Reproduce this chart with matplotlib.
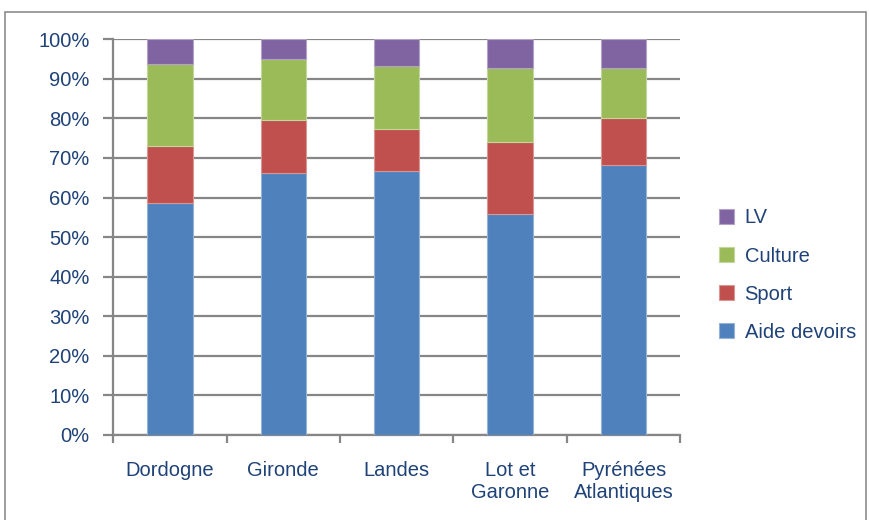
import matplotlib.pyplot as plt
from matplotlib.patches import Rectangle

departements = ['Dordogne', 'Gironde', 'Landes', 'Lot et\nGaronne', 'Pyrénées\nAtlantiques']
aide_devoirs = [58.7, 66.3, 66.8, 55.9, 68.3]
sport = [14.4, 13.4, 10.6, 18.1, 11.9]
culture = [20.6, 15.3, 15.8, 18.7, 12.5]
lv = [6.3, 5.0, 6.8, 7.3, 7.3]
series_names = ['Aide devoirs', 'Sport', 'Culture', 'LV']
couleurs = ['#4F81BD', '#C0504D', '#9BBB59', '#8064A2']
bords = ['#95B3D7', '#D99694', '#C3D69B', '#B2A2C7']
y_ticks = [0, 10, 20, 30, 40, 50, 60, 70, 80, 90, 100]

texte = '#1F4278'
gris = '#868686'

plt.rcParams['font.family'] = ['Liberation Sans', 'DejaVu Sans']

fig = plt.figure(figsize=(8.7, 5.2), dpi=100)
ax = fig.add_axes([0.130, 0.1635, 0.652, 0.761])

x = list(range(len(departements)))
bas = [0] * len(departements)
handles = []
for nom, valeurs, c, b in zip(series_names, [aide_devoirs, sport, culture, lv], couleurs, bords):
    h = ax.bar(x, valeurs, 0.4, bottom=bas, color=c, edgecolor=b, linewidth=0.8, label=nom, zorder=3)
    handles.append(h)
    bas = [u + v for u, v in zip(bas, valeurs)]

ax.set_xlim(-0.5, len(departements) - 0.5)
ax.set_ylim(0, 100)
ax.set_yticks(y_ticks)
ax.set_yticklabels([f'{t}%' for t in y_ticks], color=texte, fontsize=14.5)
ax.yaxis.grid(True, color=gris, linewidth=1.6, zorder=0)
ax.set_axisbelow(True)

ax.set_xticks(x)
ax.set_xticklabels(departements, color=texte, fontsize=14.5, linespacing=1.15)
ax.tick_params(axis='x', length=0, pad=19)
ax.set_xticks([i - 0.5 for i in range(len(departements) + 1)], minor=True)
ax.tick_params(axis='x', which='minor', length=6, color=gris, width=1.6, direction='out')
ax.tick_params(axis='y', length=7, color=gris, width=1.6, pad=10)

for s in ['top', 'right']:
    ax.spines[s].set_visible(False)
for s in ['left', 'bottom']:
    ax.spines[s].set_color(gris)
    ax.spines[s].set_linewidth(1.6)

leg = fig.legend(handles[::-1], series_names[::-1], loc='upper left', bbox_to_anchor=(0.806, 0.634),
                 frameon=False, fontsize=14.5, handlelength=0.75, handleheight=0.75,
                 handletextpad=0.5, labelspacing=0.95)
for t in leg.get_texts():
    t.set_color(texte)

fig.patches.append(Rectangle((5 / 870, -0.1), 861 / 870, 1.1 - 12 / 520, transform=fig.transFigure,
                             fill=False, edgecolor='#8C8C8C', linewidth=1.2))

fig.savefig('out.png', dpi=100)
